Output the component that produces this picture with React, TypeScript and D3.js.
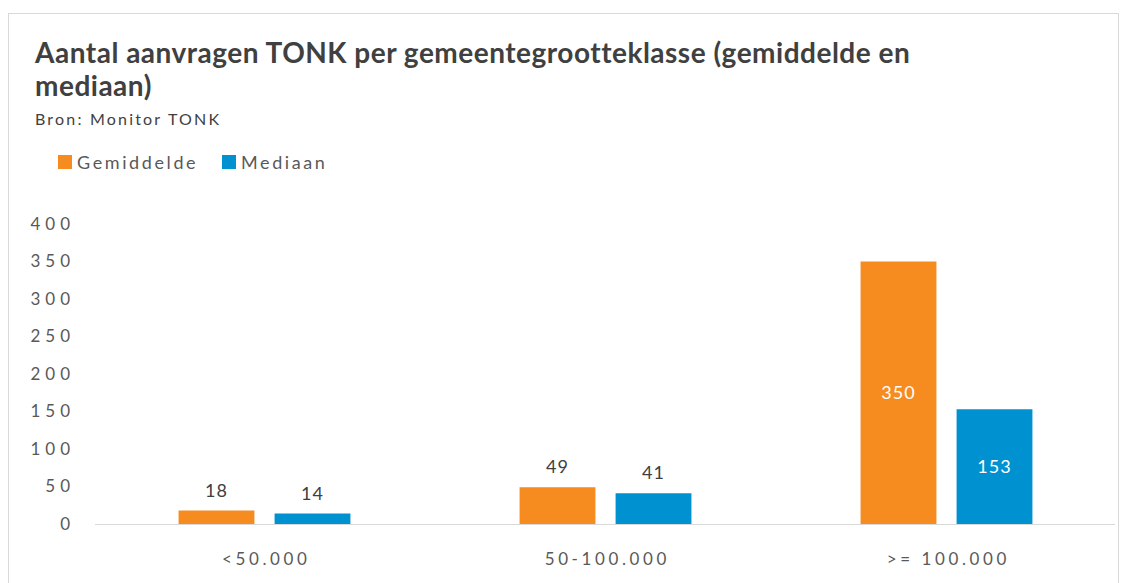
import React, { useRef, useEffect } from "react";
import * as d3 from "d3";

const categories = ["<50.000", "50-100.000", ">= 100.000"];
const seriesNames = ["Gemiddelde", "Mediaan"];
const gemiddelde = [18, 49, 350];
const mediaan = [14, 41, 153];
const yTicks = [0, 50, 100, 150, 200, 250, 300, 350, 400];
const colors = ["#f68b1f", "#0091d0"];

export default function App() {
  const svgRef = useRef<SVGSVGElement>(null);

  useEffect(() => {
    const svg = d3.select(svgRef.current);
    svg.selectAll("*").remove();

    const font = "Lato, 'Open Sans', sans-serif";
    const textColor = "#404040";

    // frame
    svg
      .append("rect")
      .attr("x", 0.5)
      .attr("y", 5.5)
      .attr("width", 1110)
      .attr("height", 600)
      .attr("fill", "white")
      .attr("stroke", "#d9d9d9");

    // title
    const title = svg.append("g").attr("font-family", font).attr("fill", textColor);
    title
      .append("text")
      .attr("x", 27)
      .attr("y", 55)
      .attr("font-size", 28)
      .attr("font-weight", 700)
      .attr("letter-spacing", 0.5)
      .text("Aantal aanvragen TONK per gemeentegrootteklasse (gemiddelde en");
    title
      .append("text")
      .attr("x", 27)
      .attr("y", 88)
      .attr("font-size", 28)
      .attr("font-weight", 700)
      .attr("letter-spacing", 0.5)
      .text("mediaan)");
    title
      .append("text")
      .attr("x", 27)
      .attr("y", 117)
      .attr("font-size", 16)
      .attr("letter-spacing", 2.2)
      .text("Bron: Monitor TONK");

    // legend
    const legendX = [50, 214];
    const legend = svg
      .append("g")
      .selectAll("g")
      .data(seriesNames)
      .enter()
      .append("g")
      .attr("transform", (_, i) => `translate(${legendX[i]},147)`);
    legend
      .append("rect")
      .attr("width", 14)
      .attr("height", 14)
      .attr("fill", (_, i) => colors[i]);
    legend
      .append("text")
      .attr("x", 19)
      .attr("y", 14)
      .attr("font-family", font)
      .attr("font-size", 18)
      .attr("letter-spacing", 2.6)
      .attr("fill", "#595959")
      .text((d) => d);

    // scales
    const y = d3.scaleLinear().domain([0, 400]).range([516, 216]);
    const x0 = d3.scaleBand().domain(categories).range([86, 1109]);
    const x1 = d3
      .scaleBand()
      .domain(seriesNames)
      .range([0, x0.bandwidth()])
      .paddingInner(0.21)
      .paddingOuter(0.881);

    // y axis labels
    const tickSpacing = 5;
    svg
      .append("g")
      .selectAll("text")
      .data(yTicks)
      .enter()
      .append("text")
      .attr("x", 62 + tickSpacing)
      .attr("y", (d) => y(d))
      .attr("dy", "0.35em")
      .attr("text-anchor", "end")
      .attr("font-family", font)
      .attr("font-size", 17)
      .attr("letter-spacing", tickSpacing)
      .attr("fill", "#595959")
      .text((d) => d);

    const rows = categories.map((c, i) => ({
      cat: c,
      values: [gemiddelde[i], mediaan[i]],
    }));

    const groups = svg
      .append("g")
      .selectAll("g")
      .data(rows)
      .enter()
      .append("g")
      .attr("transform", (d) => `translate(${x0(d.cat)},0)`);

    groups
      .selectAll("rect")
      .data((d) => d.values.map((v, i) => ({ s: seriesNames[i], v, i })))
      .enter()
      .append("rect")
      .attr("x", (d) => x1(d.s)!)
      .attr("y", (d) => y(d.v))
      .attr("width", x1.bandwidth())
      .attr("height", (d) => y(0) - y(d.v))
      .attr("fill", (d) => colors[d.i]);

    // data labels: inside for tall bars, above for short ones
    groups
      .selectAll("text.val")
      .data((d) => d.values.map((v, i) => ({ s: seriesNames[i], v, i })))
      .enter()
      .append("text")
      .attr("class", "val")
      .attr("x", (d) => x1(d.s)! + x1.bandwidth() / 2)
      .attr("y", (d) => (d.v > 100 ? (y(d.v) + y(0)) / 2 + 6 : y(d.v) - 14))
      .attr("text-anchor", "middle")
      .attr("font-family", font)
      .attr("font-size", 18)
      .attr("letter-spacing", 1)
      .attr("fill", (d) => (d.v > 100 ? "white" : textColor))
      .text((d) => d.v);

    // baseline
    svg
      .append("line")
      .attr("x1", 87)
      .attr("x2", 1107)
      .attr("y1", y(0) + 0.5)
      .attr("y2", y(0) + 0.5)
      .attr("stroke", "#d9d9d9");

    // category labels
    svg
      .append("g")
      .selectAll("text")
      .data(categories)
      .enter()
      .append("text")
      .attr("x", (d) => x0(d)! + x0.bandwidth() / 2 + 1.8)
      .attr("y", 557)
      .attr("text-anchor", "middle")
      .attr("font-family", font)
      .attr("font-size", 17)
      .attr("letter-spacing", 3.6)
      .attr("fill", "#595959")
      .text((d) => d);
  }, []);

  return <svg ref={svgRef} width={1128} height={575} style={{ display: "block" }} />;
}
